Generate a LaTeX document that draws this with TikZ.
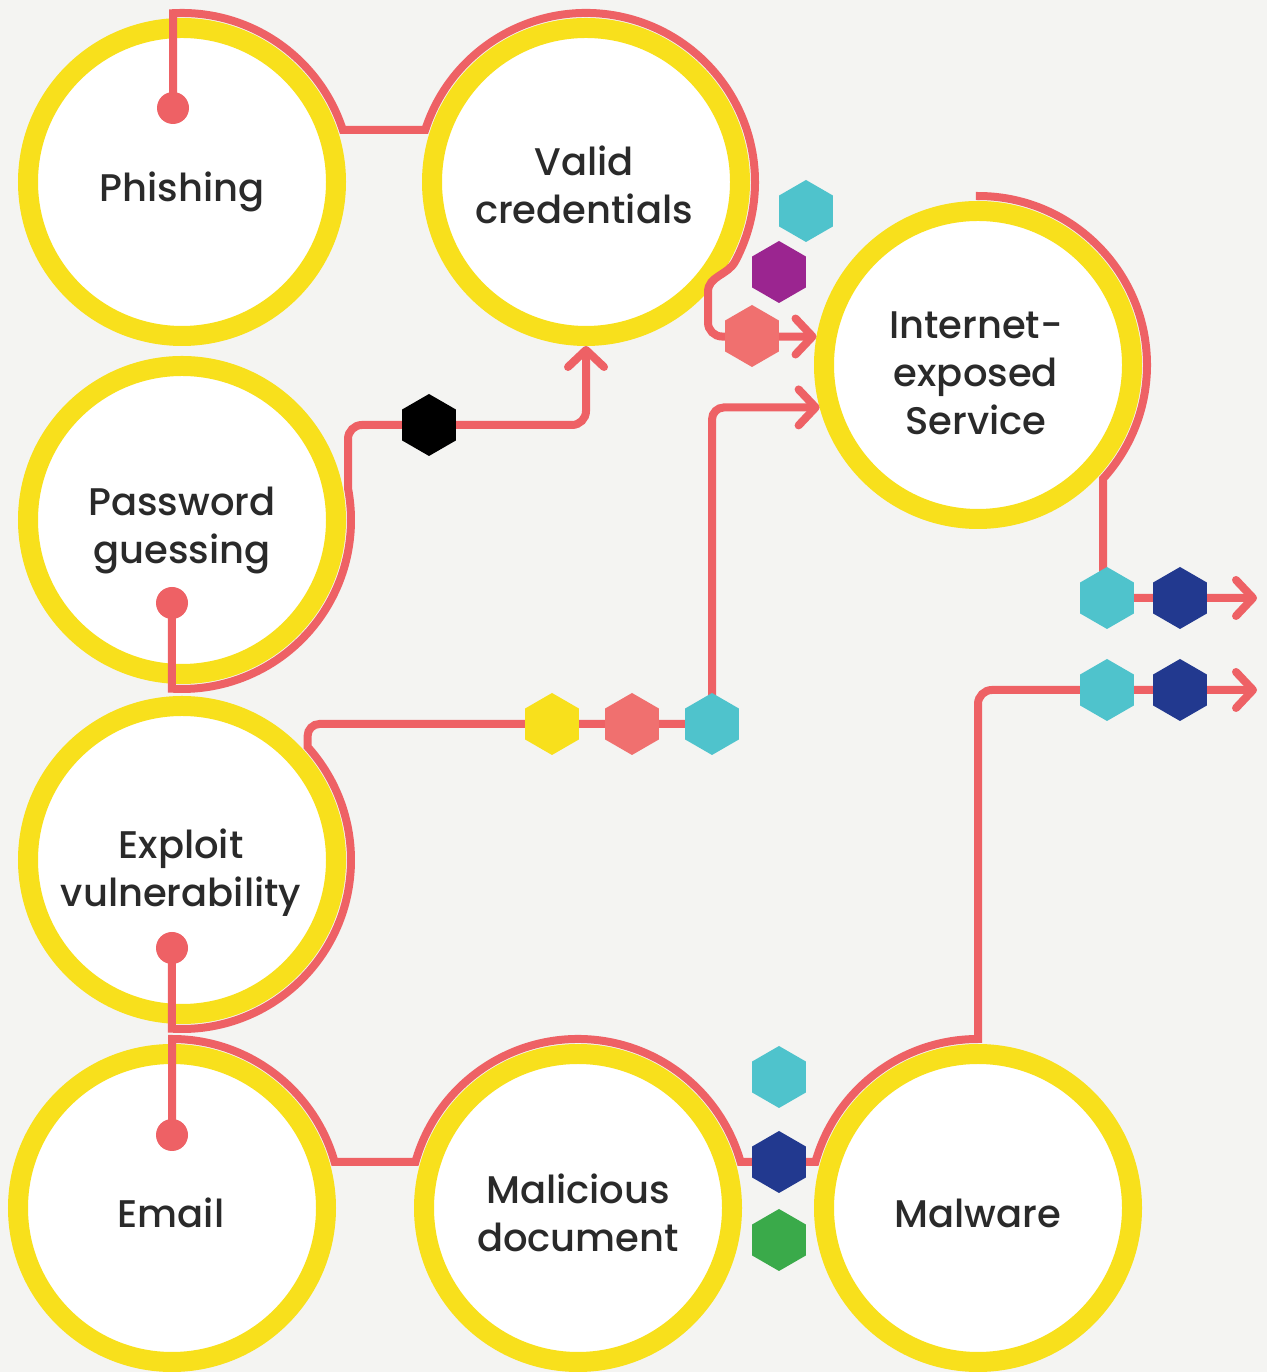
\documentclass[tikz,border=0pt]{standalone}
\usepackage{fontspec}
\setmainfont{Poppins}[UprightFont=* Medium]
\usetikzlibrary{arrows.meta,shapes.geometric,calc}
\definecolor{bgC}{HTML}{F4F4F2}
\definecolor{ringY}{HTML}{F8E01C}
\definecolor{lineR}{HTML}{EE6165}
\definecolor{pinkH}{HTML}{F0706F}
\definecolor{cyanH}{HTML}{4FC3CC}
\definecolor{purpH}{HTML}{9B2590}
\definecolor{navyH}{HTML}{22398F}
\definecolor{greenH}{HTML}{3AAA4A}
\definecolor{txtC}{HTML}{2A2A2A}
\begin{document}
\begin{tikzpicture}[x=1pt,y=1pt,
  ring/.style={circle, draw=ringY, line width=20pt, fill=white, minimum size=308pt,
    inner sep=0pt},
  lab/.style={align=center, text=txtC, inner sep=0pt, font=\fontsize{38.5}{48}\selectfont},
  hexa/.style={regular polygon, regular polygon sides=6, shape border rotate=90,
    minimum size=62pt, inner sep=0pt, draw=none},
  link/.style={draw=lineR, line width=8pt},
  tipR/.style={-{Straight Barb[length=17pt,width=36pt,round]}},
  dotR/.style={circle, fill=lineR, minimum size=32pt, inner sep=0pt}]
\useasboundingbox (0,0) rectangle (1267,1372);
\fill[bgC] (0,0) rectangle (1267,1372);

% circles
\node[ring] (P) at (182,1190) {};
\node[ring] (V) at (586,1190) {};
\node[ring] (I) at (978,1007) {};
\node[ring] (G) at (182,852) {};
\node[ring] (X) at (182,512) {};
\node[ring] (E) at (172,164) {};
\node[ring] (M) at (578,164) {};
\node[ring] (W) at (978,164) {};

% labels
\node[lab] (tP) at ($(P)+(0,-10)$) {Phishing};
\node[lab] (tV) at ($(V)+(-2,-3)$) {Valid\\credentials};
\node[lab] (tI) at ($(I)+(-2,-8)$) {Internet-\\exposed\\Service};
\node[lab] (tG) at ($(G)+(0,-11)$) {Password\\guessing};
\node[lab] (tX) at ($(X)+(-1,-13)$) {Exploit\\vulnerability};
\node[lab] (tE) at ($(E)+(-1,-5)$) {Email};
\node[lab] (tM) at ($(M)+(0,-5)$) {Malicious\\document};
\node[lab] (tW) at ($(W)+(0,-5)$) {Malware};

% positions of dots and hexagons
\coordinate (dP) at (173,1264);
\coordinate (dG) at (172,769);
\coordinate (dX) at (172,424);
\coordinate (dE) at (172,237);
\coordinate (hC1) at (806,1161);
\coordinate (hPu) at (779,1100);
\coordinate (hK1) at (752,1036);
\coordinate (hBk) at (429,947);
\coordinate (hYe) at (552,648);
\coordinate (hK2) at (632,648);
\coordinate (hC2) at (712,648);
\coordinate (hC3) at (1107,774);
\coordinate (hN1) at (1180,774);
\coordinate (hC4) at (1107,682);
\coordinate (hN2) at (1180,682);
\coordinate (hC5) at (779,295);
\coordinate (hN3) at (779,210);
\coordinate (hGr) at (779,132);
\coordinate (oD) at (1257,774);
\coordinate (oE) at (1257,682);

% connectors
\draw[link,tipR] (dP) -- ($(P)+(93:169)$) arc[start angle=93,end angle=18,radius=169]
  -- ($(V)+(162:169)$) arc[start angle=162,end angle=-28,radius=169]
  to[out=242,in=90] (708,1080) [rounded corners=14pt] |- (I.170);
\draw[link,tipR] (dG) -- ($(G)+(266.6:169)$) arc[start angle=266.6,end angle=370.8,radius=169]
  [rounded corners=14pt] |- (hBk) -| (V.south);
\draw[link,tipR] (dX) -- ($(X)+(266.6:169)$) arc[start angle=266.6,end angle=402,radius=169]
  [rounded corners=12pt] |- (hYe) -- (hK2) -- (hC2) |- (I.195);
\draw[link,tipR] ($(I)+(90.7:169)$) arc[start angle=90.7,end angle=-42.3,radius=169]
  [rounded corners=14pt] |- (hC3) -- (hN1) -- (oD);
\draw[link,tipR] (dE) -- ($(E)+(90:169)$) arc[start angle=90,end angle=15.8,radius=169]
  -- ($(M)+(164.2:169)$) arc[start angle=164.2,end angle=15.8,radius=169]
  -- (hN3) -- ($(W)+(164.2:169)$) arc[start angle=164.2,end angle=90,radius=169]
  [rounded corners=14pt] |- (hC4) -- (hN2) -- (oE);

% dots
\node[dotR] (nP) at (dP) {};
\node[dotR] (nG) at (dG) {};
\node[dotR] (nX) at (dX) {};
\node[dotR] (nE) at (dE) {};

% hexagons
\node[hexa, fill=cyanH] (x1) at (hC1) {};
\node[hexa, fill=purpH] (x2) at (hPu) {};
\node[hexa, fill=pinkH] (x3) at (hK1) {};
\node[hexa, fill=black] (x4) at (hBk) {};
\node[hexa, fill=ringY] (x5) at (hYe) {};
\node[hexa, fill=pinkH] (x6) at (hK2) {};
\node[hexa, fill=cyanH] (x7) at (hC2) {};
\node[hexa, fill=cyanH] (x8) at (hC3) {};
\node[hexa, fill=navyH] (x9) at (hN1) {};
\node[hexa, fill=cyanH] (x10) at (hC4) {};
\node[hexa, fill=navyH] (x11) at (hN2) {};
\node[hexa, fill=cyanH] (x12) at (hC5) {};
\node[hexa, fill=navyH] (x13) at (hN3) {};
\node[hexa, fill=greenH] (x14) at (hGr) {};
\end{tikzpicture}
\end{document}
